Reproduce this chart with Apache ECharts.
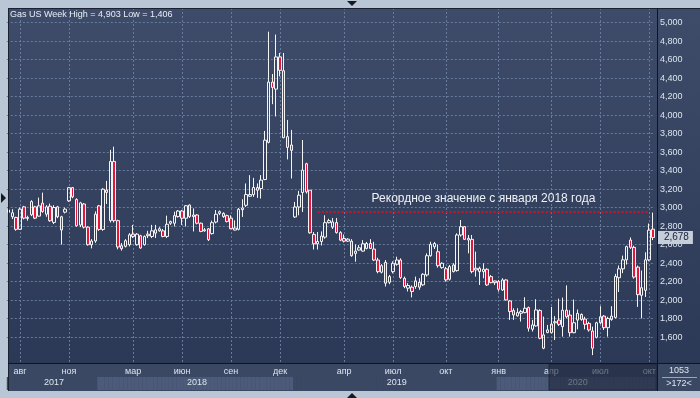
<!DOCTYPE html>
<html>
<head>
<meta charset="utf-8">
<script src="https://cdn.jsdelivr.net/npm/echarts/dist/echarts.min.js"></script>
<style>
  html, body { margin: 0; padding: 0; background: #b9c6d6; }
  #main { width: 700px; height: 398px; }
</style>
</head>
<body>
<div id="main"></div>
<script>
// weekly OHLC
var opens = [
  2950,2902,2895,2766,3009,2884,2923,3009,2909,3049,
  2930,3016,2841,3009,2902,2952,3074,3217,3088,2813,
  3040,2790,2600,2640,3020,2765,3190,2860,3500,2860,
  2589,2582,2600,2714,2600,2697,2600,2714,2689,2725,
  2750,2750,2689,2832,2832,2904,2964,2886,3029,2904,
  2921,2832,2750,2772,2720,2845,2939,2939,2914,2886,
  2758,2766,2979,3026,3124,3142,3218,3207,3305,3707,
  4358,4282,4630,4481,3768,3678,2900,3008,3164,3475,
  3189,2711,2610,2635,2682,2838,2790,2839,2731,2667,
  2638,2638,2506,2542,2531,2560,2613,2553,2434,2302,
  2409,2194,2309,2388,2434,2237,2130,2141,2148,2194,
  2166,2273,2481,2578,2524,2352,2340,2226,2381,2320,
  2705,2795,2651,2658,2327,2345,2309,2334,2255,2190,
  2201,2111,2219,1992,1888,1830,1859,1866,1920,1686,
  1722,1888,1481,1650,1649,1756,1785,1714,1892,1839,
  1649,1785,1846,1796,1749,1667,1599,1756,1828,1703,
  1792,1814,2243,2339,2436,2650,2571,2357,2053,2107,
  2436,2768
];
var closes = [
  2975,2945,2766,2984,2887,2895,3066,2887,3020,2959,
  3009,2859,3002,2902,2759,2984,3217,3117,2805,3052,
  2790,2600,2640,2930,2765,3200,3165,3500,2860,2575,
  2557,2643,2707,2689,2714,2564,2689,2697,2750,2761,
  2772,2689,2821,2850,2914,2964,2886,3021,2904,2921,
  2832,2743,2761,2654,2838,2929,2957,2904,2850,2773,
  2780,2983,2997,3142,3142,3218,3189,3298,3730,4358,
  4300,4630,4485,3757,3652,3620,3008,3135,3406,3171,
  2729,2610,2635,2693,2838,2860,2846,2731,2649,2638,
  2660,2481,2531,2567,2610,2613,2560,2434,2309,2373,
  2184,2255,2399,2434,2245,2148,2159,2094,2209,2141,
  2280,2481,2603,2613,2373,2399,2220,2363,2309,2705,
  2795,2658,2669,2309,2345,2309,2334,2165,2190,2208,
  2118,2219,2003,1877,1841,1866,1877,1913,1697,1733,
  1895,1589,1625,1679,1742,1767,1739,1892,1821,1649,
  1756,1857,1792,1739,1678,1481,1756,1821,1703,1803,
  1828,2257,2339,2436,2579,2571,2250,2060,2135,2436,
  2757,2678
];
var lows = [
  2930,2877,2751,2759,2873,2859,2909,2877,2902,2945,
  2902,2848,2823,2887,2601,2938,3063,3102,2794,2790,
  2775,2590,2560,2620,2750,2750,3040,2840,2840,2550,
  2536,2570,2582,2672,2590,2557,2590,2672,2672,2672,
  2740,2680,2672,2814,2797,2893,2814,2797,2890,2743,
  2820,2735,2740,2640,2710,2830,2920,2890,2840,2766,
  2755,2755,2900,3008,3117,3117,3106,3099,3298,3696,
  4119,3986,4420,3750,3522,3316,2889,2918,2954,3153,
  2719,2548,2548,2592,2664,2830,2770,2720,2638,2624,
  2630,2470,2416,2535,2524,2550,2553,2423,2291,2290,
  2148,2173,2290,2373,2230,2130,2094,2030,2123,2112,
  2155,2255,2470,2553,2352,2340,2200,2212,2300,2309,
  2687,2651,2507,2291,2255,2165,2237,2154,2183,2165,
  2093,2100,1996,1787,1787,1823,1769,1859,1661,1661,
  1715,1578,1470,1643,1642,1570,1721,1606,1803,1606,
  1642,1685,1778,1685,1660,1406,1588,1742,1678,1606,
  1778,1803,2089,2293,2386,2554,2232,1928,1803,2035,
  2421,2650
];
var highs = [
  3005,2984,2902,3002,3020,2913,3081,3020,3109,3163,
  3027,3045,3027,3020,2913,3002,3224,3224,3102,3063,
  3050,2800,2660,2960,3030,3210,3290,3625,3660,2870,
  2618,2660,2725,2814,2725,2707,2700,2750,2814,2814,
  2790,2770,2914,2860,2957,2975,2975,3029,3035,2993,
  2930,2840,2780,2780,2860,2975,2970,2950,2925,2918,
  2863,2997,3091,3262,3352,3323,3262,3352,3830,4903,
  4445,4872,4673,4673,3949,3841,3062,3182,3732,3486,
  3189,2737,2737,2744,2918,2880,2889,2889,2746,2710,
  2670,2660,2603,2596,2649,2630,2660,2632,2459,2390,
  2434,2273,2420,2470,2452,2255,2184,2159,2255,2237,
  2291,2506,2632,2630,2603,2410,2360,2381,2400,2723,
  2867,2802,2705,2705,2525,2363,2399,2345,2273,2212,
  2219,2237,2226,2003,1913,1913,1895,2032,1931,1787,
  2010,1902,1823,1733,1928,1828,2017,2028,2160,1892,
  2007,1899,1857,1821,1767,1714,1767,1935,1839,1821,
  1935,2285,2375,2482,2589,2679,2589,2375,2321,2518,
  2829,2947
];

// axis labels as placed on the picture (bar index, text)
var monthTicks = [[3,'авг'],[16,'ноя'],[33,'мар'],[46,'июн'],[59,'сен'],[72,'дек'],
  [89,'апр'],[102,'июл'],[116,'окт'],[130,'янв'],[144,'апр'],[157,'июл'],[170,'окт']];
var yearStarts = [[2017,0],[2018,24],[2019,76],[2020,130]];

var recordLevel = 2957;
var recordFrom = 82, recordTo = 170;
var recordText = 'Рекордное значение с января 2018 года';

var weeks = [];
var t0 = Date.UTC(2017, 6, 10);
for (var i = 0; i < opens.length; i++) {
  weeks.push(new Date(t0 + i * 7 * 864e5).toISOString().slice(0, 10));
}

function fmt(v) {
  return String(v).replace(/\B(?=(\d{3})+(?!\d))/g, ',');
}

var candles = weeks.map(function (w, i) {
  return [opens[i], closes[i], lows[i], highs[i]];
});
var hi = Math.max.apply(null, highs);
var lo = Math.min.apply(null, lows);
var last = closes[closes.length - 1];

var monthMap = {};
monthTicks.forEach(function (m) { monthMap[m[0]] = m[1]; });

var yearOf = weeks.map(function (w, i) {
  var k = 0;
  for (var j = 0; j < yearStarts.length; j++) if (yearStarts[j][1] <= i) k = j;
  return k;
});
var yearMid = {};
yearStarts.forEach(function (y, k) {
  var end = k + 1 < yearStarts.length ? yearStarts[k + 1][1] - 1 : weeks.length - 1;
  yearMid[Math.round((y[1] + end) / 2)] = String(y[0]);
});
var band = yearOf.map(function (k) {
  return { value: 1, itemStyle: { color: k % 2 ? '#4b5b79' : '#3a4864' } };
});

var txt = '#dde4ee';
var gridLine = { color: '#667b9e', type: [2, 2], width: 1 };
var font = 'Liberation Sans, Arial, sans-serif';

var chart = echarts.init(document.getElementById('main'));
var option = {
  animation: false,
  backgroundColor: '#b9c6d6',
  textStyle: { fontFamily: font },
  title: {
    text: 'Gas US Week High = ' + fmt(hi) + ' Low = ' + fmt(lo),
    left: 10, top: 10, padding: 0,
    textStyle: { color: '#e8edf5', fontSize: 9, fontWeight: 'normal', fontFamily: font }
  },
  grid: [
    { left: 8.7, right: 46.9, top: 8, bottom: 35, outerBoundsMode: 'none' },
    { left: 6.8, right: 45.1, top: 22.7, bottom: 42.3, outerBoundsMode: 'none' },
    { left: 6.8, right: 45.1, top: 377, bottom: 8, outerBoundsMode: 'none' }
  ],
  xAxis: [
    {
      gridIndex: 0, type: 'category', data: weeks, boundaryGap: false,
      axisLine: { show: false }, axisTick: { show: false },
      axisLabel: {
        color: txt, fontSize: 9, margin: 4,
        interval: function (i) { return monthMap[i] !== undefined; },
        formatter: function (v, i) { return monthMap[i] || ''; }
      },
      splitLine: {
        show: true, lineStyle: gridLine,
        interval: function (i) { return monthMap[i] !== undefined; }
      }
    },
    { gridIndex: 1, type: 'category', data: weeks, show: false },
    {
      gridIndex: 2, type: 'category', data: weeks, z: 10,
      axisLine: { show: false }, axisTick: { show: false },
      axisLabel: {
        inside: true, color: txt, fontSize: 9, margin: 3,
        interval: function (i) { return yearMid[i] !== undefined; },
        formatter: function (v, i) { return yearMid[i] || ''; }
      }
    }
  ],
  yAxis: [
    { gridIndex: 0, type: 'value', show: false, min: 0, max: 1 },
    {
      gridIndex: 1, type: 'value', position: 'right',
      min: 1400, max: 5000, interval: 200,
      axisLine: { show: false }, axisTick: { show: false },
      axisLabel: { color: txt, fontSize: 9, margin: 5, showMinLabel: false, formatter: fmt },
      splitLine: { show: true, showMinLine: false, lineStyle: gridLine }
    },
    { gridIndex: 2, type: 'value', show: false, min: 0, max: 1 }
  ],
  series: [
    {
      type: 'bar', xAxisIndex: 2, yAxisIndex: 2, data: band,
      barCategoryGap: '0%', silent: true, z: 0
    },
    {
      type: 'candlestick', xAxisIndex: 1, yAxisIndex: 1,
      data: candles, barWidth: 3,
      itemStyle: {
        color: 'rgba(0,0,0,0)', color0: '#e5153c',
        borderColor: '#f4f4f4', borderColor0: '#f4f4f4', borderWidth: 1
      },
      markLine: {
        silent: true, symbol: ['none', 'none'], animation: false,
        data: [
          [
            {
              coord: [weeks[recordFrom], recordLevel],
              lineStyle: { color: '#c8142f', width: 2, type: [2, 2] },
              label: {
                show: true, position: 'insideMiddleTop', distance: 7,
                formatter: recordText, color: '#eef2f8', fontSize: 12
              }
            },
            { coord: [weeks[recordTo], recordLevel] }
          ],
          {
            yAxis: last,
            lineStyle: { color: 'rgba(0,0,0,0)', width: 1 },
            label: {
              show: true, position: 'end', distance: 3, formatter: fmt(last),
              backgroundColor: '#c6ceda', color: '#16223a',
              padding: [2, 4, 1, 6], fontSize: 10
            }
          }
        ]
      }
    }
  ],
  graphic: {
    elements: [
      {
        type: 'rect', z: -10, silent: true,
        shape: { x: 8, y: 8, width: 692, height: 355 },
        style: {
          fill: new echarts.graphic.LinearGradient(0, 0, 0, 1, [
            { offset: 0, color: '#3e4c69' }, { offset: 1, color: '#2c3956' }
          ])
        }
      },
      { type: 'rect', z: -10, silent: true, shape: { x: 8, y: 363, width: 692, height: 28 }, style: { fill: '#3a4864' } },
      { type: 'rect', z: 60, silent: true, shape: { x: 549, y: 364, width: 108, height: 26 },
        style: { fill: 'rgba(30,39,58,0.6)', stroke: '#222b3d', lineWidth: 1 } },
      { type: 'line', z: 70, silent: true, shape: { x1: 8.5, y1: 8, x2: 8.5, y2: 391 }, style: { stroke: '#1a2131', lineWidth: 1 } },
      { type: 'line', z: 70, silent: true, shape: { x1: 8, y1: 8.5, x2: 700, y2: 8.5 }, style: { stroke: '#1a2131', lineWidth: 1 } },
      { type: 'line', z: 70, silent: true, shape: { x1: 657.5, y1: 8, x2: 657.5, y2: 391 }, style: { stroke: '#10151f', lineWidth: 1 } },
      { type: 'line', z: 70, silent: true, shape: { x1: 8, y1: 363.5, x2: 700, y2: 363.5 }, style: { stroke: '#10151f', lineWidth: 1 } },
      { type: 'line', z: 70, silent: true, shape: { x1: 662, y1: 377.5, x2: 697, y2: 377.5 }, style: { stroke: '#9aa6ba', lineWidth: 1 } },
      { type: 'text', z: 70, silent: true, style: { text: '1053', x: 679, y: 371, fill: txt, font: '9px ' + font, textAlign: 'center', textVerticalAlign: 'middle' } },
      { type: 'text', z: 70, silent: true, style: { text: '>172<', x: 679, y: 384, fill: txt, font: '9px ' + font, textAlign: 'center', textVerticalAlign: 'middle' } },
      { type: 'polygon', z: 70, silent: true, shape: { points: [[347, 1], [357, 1], [352, 6]] }, style: { fill: '#15191f' } },
      { type: 'polygon', z: 70, silent: true, shape: { points: [[1, 193], [1, 203], [6, 198]] }, style: { fill: '#15191f' } },
      { type: 'polygon', z: 70, silent: true, shape: { points: [[347, 398], [357, 398], [352, 393]] }, style: { fill: '#15191f' } }
    ]
  }
};
chart.setOption(option);
</script>
</body>
</html>
